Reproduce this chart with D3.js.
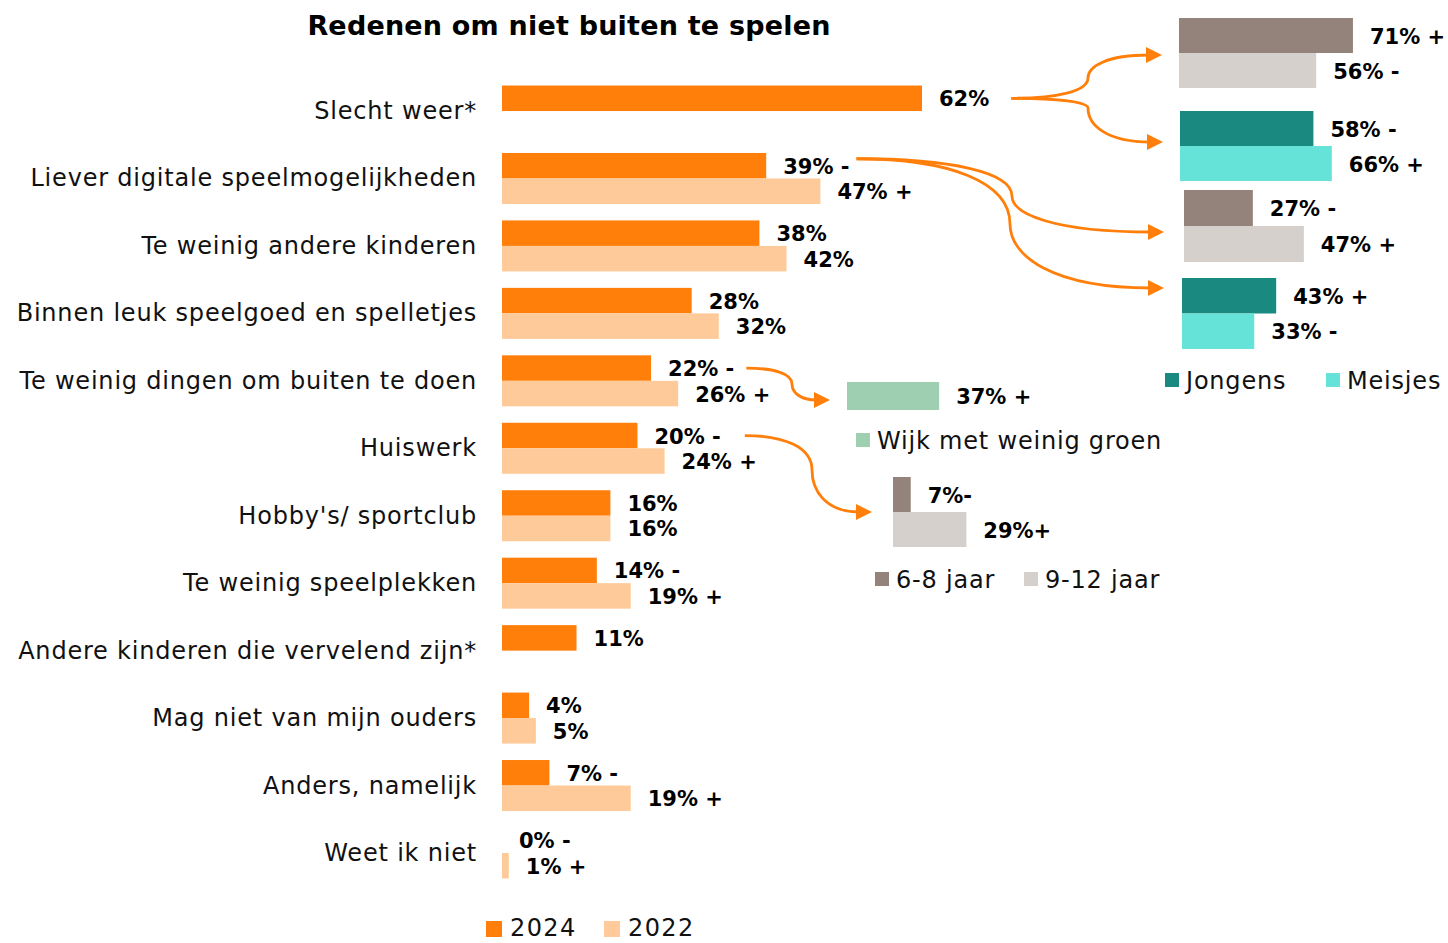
<!DOCTYPE html>
<html>
<head>
<meta charset="utf-8">
<script src="https://cdn.jsdelivr.net/npm/d3@7"></script>
<style>
  html, body { margin: 0; padding: 0; background: #fff; }
  svg { display: block; }
</style>
</head>
<body>
<svg id="chart" width="1448" height="943"></svg>
<script>
// ---------------- DATA ----------------
const categories = [
  "Slecht weer*",
  "Liever digitale speelmogelijkheden",
  "Te weinig andere kinderen",
  "Binnen leuk speelgoed en spelletjes",
  "Te weinig dingen om buiten te doen",
  "Huiswerk",
  "Hobby's/ sportclub",
  "Te weinig speelplekken",
  "Andere kinderen die vervelend zijn*",
  "Mag niet van mijn ouders",
  "Anders, namelijk",
  "Weet ik niet"
];
const series = ["2024", "2022"];
const values2024 = [62, 39, 38, 28, 22, 20, 16, 14, 11, 4, 7, 0];
const values2022 = [null, 47, 42, 32, 26, 24, 16, 19, null, 5, 19, 1];
const labels2024 = ["62%", "39% -", "38%", "28%", "22% -", "20% -", "16%", "14% -", "11%", "4%", "7% -", "0% -"];
const labels2022 = ["", "47% +", "42%", "32%", "26% +", "24% +", "16%", "19% +", "", "5%", "19% +", "1% +"];

// side panels
const weerAgeValues = [71, 56];          // 6-8 jaar, 9-12 jaar
const weerAgeLabels = ["71% +", "56% -"];
const weerGenderValues = [58, 66];       // Jongens, Meisjes
const weerGenderLabels = ["58% -", "66% +"];
const digitaalAgeValues = [27, 47];
const digitaalAgeLabels = ["27% -", "47% +"];
const digitaalGenderValues = [43, 33];
const digitaalGenderLabels = ["43% +", "33% -"];
const groenValues = [37];
const groenLabels = ["37% +"];
const huiswerkAgeValues = [7, 29];
const huiswerkAgeLabels = ["7%-", "29%+"];

const genderNames = ["Jongens", "Meisjes"];
const ageNames = ["6-8 jaar", "9-12 jaar"];
const groenNames = ["Wijk met weinig groen"];

// ---------------- STYLE ----------------
const C2024 = "#ff7f0a", C2022 = "#ffca99";
const CJong = "#1a8a80", CMeis = "#66e3d8";
const CAge1 = "#94837a", CAge2 = "#d6d0cc";
const CGroen = "#9ecfb0";
const ORANGE = "#ff7f0a";
const FONT = "'DejaVu Sans', sans-serif";
const REG_FS = 24, REG_LS = 0.8;

const svg = d3.select("#chart");
const defs = svg.append("defs");
defs.append("marker")
  .attr("id", "arrow").attr("viewBox", "0 0 10 10")
  .attr("refX", 2).attr("refY", 5)
  .attr("markerWidth", 5.8).attr("markerHeight", 5.8)
  .attr("markerUnits", "strokeWidth")
  .attr("orient", "auto")
  .append("path").attr("d", "M0,0 L10,5 L0,10 Z").attr("fill", ORANGE);

// Title
svg.append("text")
  .attr("x", 569).attr("y", 25)
  .attr("text-anchor", "middle").attr("dominant-baseline", "central")
  .attr("font-family", FONT).attr("font-weight", "bold").attr("font-size", 27)
  .attr("letter-spacing", 0.2)
  .text("Redenen om niet buiten te spelen");

// ---------------- MAIN CHART ----------------
const x = d3.scaleLinear().domain([0, 62]).range([502, 922]);
const y = d3.scaleBand().domain(categories).range([77.3, 886.7])
  .paddingInner(0.244).paddingOuter(0.122);
const ySub = d3.scaleBand().domain(series).range([0, y.bandwidth()]);

const rows = categories.map((c, i) => ({
  cat: c,
  items: [
    { s: "2024", v: values2024[i], label: labels2024[i], color: C2024 },
    { s: "2022", v: values2022[i], label: labels2022[i], color: C2022 }
  ].filter(d => d.v !== null)
}));

const main = svg.append("g");
main.selectAll("text.cat").data(categories).join("text")
  .attr("class", "cat")
  .attr("x", 477).attr("y", d => y(d) + y.bandwidth() / 2)
  .attr("text-anchor", "end").attr("dominant-baseline", "central")
  .attr("font-family", FONT).attr("font-size", REG_FS).attr("letter-spacing", REG_LS)
  .attr("fill", "#111")
  .text(d => d);

const rowG = main.selectAll("g.row").data(rows).join("g")
  .attr("class", "row")
  .attr("transform", d => `translate(0,${y(d.cat)})`);

rowG.selectAll("rect").data(d => d.items).join("rect")
  .attr("x", x(0)).attr("y", d => ySub(d.s))
  .attr("width", d => x(d.v) - x(0)).attr("height", ySub.bandwidth())
  .attr("fill", d => d.color);

const valueLabels = {};
rowG.each(function (r) {
  d3.select(this).selectAll("text").data(r.items).join("text")
    .attr("x", d => x(d.v) + 17)
    .attr("y", d => ySub(d.s) + ySub.bandwidth() / 2 + 1)
    .attr("dominant-baseline", "central")
    .attr("font-family", FONT).attr("font-weight", "bold").attr("font-size", 21)
    .attr("fill", "#000")
    .text(d => d.label)
    .each(function (d) { valueLabels[r.cat + "|" + d.s] = this; });
});

function labelEnd(cat, s) {
  const n = valueLabels[cat + "|" + s];
  const b = n.getBBox();
  return b.x + b.width;
}

// Main legend
const legMain = svg.append("g");
[["2024", C2024, 486], ["2022", C2022, 604]].forEach(([t, c, lx]) => {
  legMain.append("rect").attr("x", lx).attr("y", 921).attr("width", 16).attr("height", 16).attr("fill", c);
  legMain.append("text").attr("x", lx + 24).attr("y", 928)
    .attr("dominant-baseline", "central")
    .attr("font-family", FONT).attr("font-size", 24).attr("letter-spacing", 1.4)
    .attr("fill", "#111").text(t);
});

// ---------------- SIDE PANELS ----------------
function panel(opts) {
  const { x0, y0, barH, pxMax, values, labels, colors } = opts;
  const sx = d3.scaleLinear().domain([0, 100]).range([0, pxMax]);
  const sy = d3.scaleBand().domain(d3.range(values.length)).range([y0, y0 + barH * values.length]);
  const g = svg.append("g");
  g.selectAll("rect").data(values).join("rect")
    .attr("x", x0).attr("y", (d, i) => sy(i))
    .attr("width", d => sx(d)).attr("height", sy.bandwidth())
    .attr("fill", (d, i) => colors[i]);
  g.selectAll("text").data(values).join("text")
    .attr("x", d => x0 + sx(d) + 17)
    .attr("y", (d, i) => sy(i) + sy.bandwidth() / 2 + 1)
    .attr("dominant-baseline", "central")
    .attr("font-family", FONT).attr("font-weight", "bold").attr("font-size", 21)
    .text((d, i) => labels[i]);
  return { x0, top: y0, bottom: y0 + barH * values.length, mid: y0 + barH * values.length / 2 };
}

function legend(items, ly, size) {
  const g = svg.append("g");
  items.forEach(([t, c, xx]) => {
    g.append("rect").attr("x", xx).attr("y", ly - size / 2).attr("width", size).attr("height", size).attr("fill", c);
    g.append("text").attr("x", xx + size + 7).attr("y", ly + 1)
      .attr("dominant-baseline", "central")
      .attr("font-family", FONT).attr("font-size", REG_FS).attr("letter-spacing", REG_LS)
      .attr("fill", "#111").text(t);
  });
}

const pWeerAge = panel({ x0: 1179, y0: 18, barH: 35, pxMax: 245, values: weerAgeValues, labels: weerAgeLabels, colors: [CAge1, CAge2] });
const pWeerGen = panel({ x0: 1180, y0: 111, barH: 35, pxMax: 230, values: weerGenderValues, labels: weerGenderLabels, colors: [CJong, CMeis] });
const pDigAge = panel({ x0: 1184, y0: 190, barH: 36, pxMax: 255, values: digitaalAgeValues, labels: digitaalAgeLabels, colors: [CAge1, CAge2] });
const pDigGen = panel({ x0: 1182, y0: 278, barH: 35.5, pxMax: 219, values: digitaalGenderValues, labels: digitaalGenderLabels, colors: [CJong, CMeis] });
legend([[genderNames[0], CJong, 1165], [genderNames[1], CMeis, 1326]], 380, 14);

const pGroen = panel({ x0: 847, y0: 382, barH: 28, pxMax: 249, values: groenValues, labels: groenLabels, colors: [CGroen] });
legend([[groenNames[0], CGroen, 856]], 440, 14);

const pHuisAge = panel({ x0: 893, y0: 477, barH: 35, pxMax: 253, values: huiswerkAgeValues, labels: huiswerkAgeLabels, colors: [CAge1, CAge2] });
legend([[ageNames[0], CAge1, 875], [ageNames[1], CAge2, 1024]], 579, 14);

// ---------------- ARROWS ----------------
function brace(sx, sy, mx, my, ex, ey) {
  const dy1 = my - sy, dy2 = ey - my;
  return `M${sx},${sy} C${sx + (mx - sx) * 0.6},${sy} ${mx},${sy + dy1 * 0.35} ${mx},${my} ` +
         `C${mx},${my + dy2 * 0.5} ${mx + (ex - mx) * 0.3},${ey} ${ex},${ey}`;
}
const arrows = svg.append("g").attr("fill", "none").attr("stroke", ORANGE).attr("stroke-width", 2.8);
function arrow(d) {
  arrows.append("path").attr("d", d).attr("marker-end", "url(#arrow)");
}
const cy = (cat, s) => y(cat) + ySub(s) + ySub.bandwidth() / 2;

// Slecht weer
{
  const sx = labelEnd(categories[0], "2024") + 22, sy = cy(categories[0], "2024");
  arrow(brace(sx, sy, 1088, 78, pWeerAge.x0 - 30, pWeerAge.bottom - 33));
  arrow(brace(sx, sy, 1088, 108, pWeerGen.x0 - 30, pWeerGen.mid - 4));
}
// Liever digitale
{
  const sx = labelEnd(categories[1], "2024") + 7, sy = cy(categories[1], "2024") - 7;
  arrow(brace(sx, sy, 1012, 196, pDigAge.x0 - 33, pDigAge.mid + 6));
  arrow(brace(sx, sy, 1010, 224, pDigGen.x0 - 31, pDigGen.top + 10));
}
// Te weinig dingen om buiten te doen
{
  const sx = labelEnd(categories[4], "2024") + 12, sy = cy(categories[4], "2024");
  arrow(brace(sx, sy, 792, 384, pGroen.x0 - 30, pGroen.mid + 4));
}
// Huiswerk
{
  const sx = labelEnd(categories[5], "2024") + 24, sy = cy(categories[5], "2024");
  arrow(brace(sx, sy, 812, 470, pHuisAge.x0 - 34, pHuisAge.mid));
}
</script>
</body>
</html>
